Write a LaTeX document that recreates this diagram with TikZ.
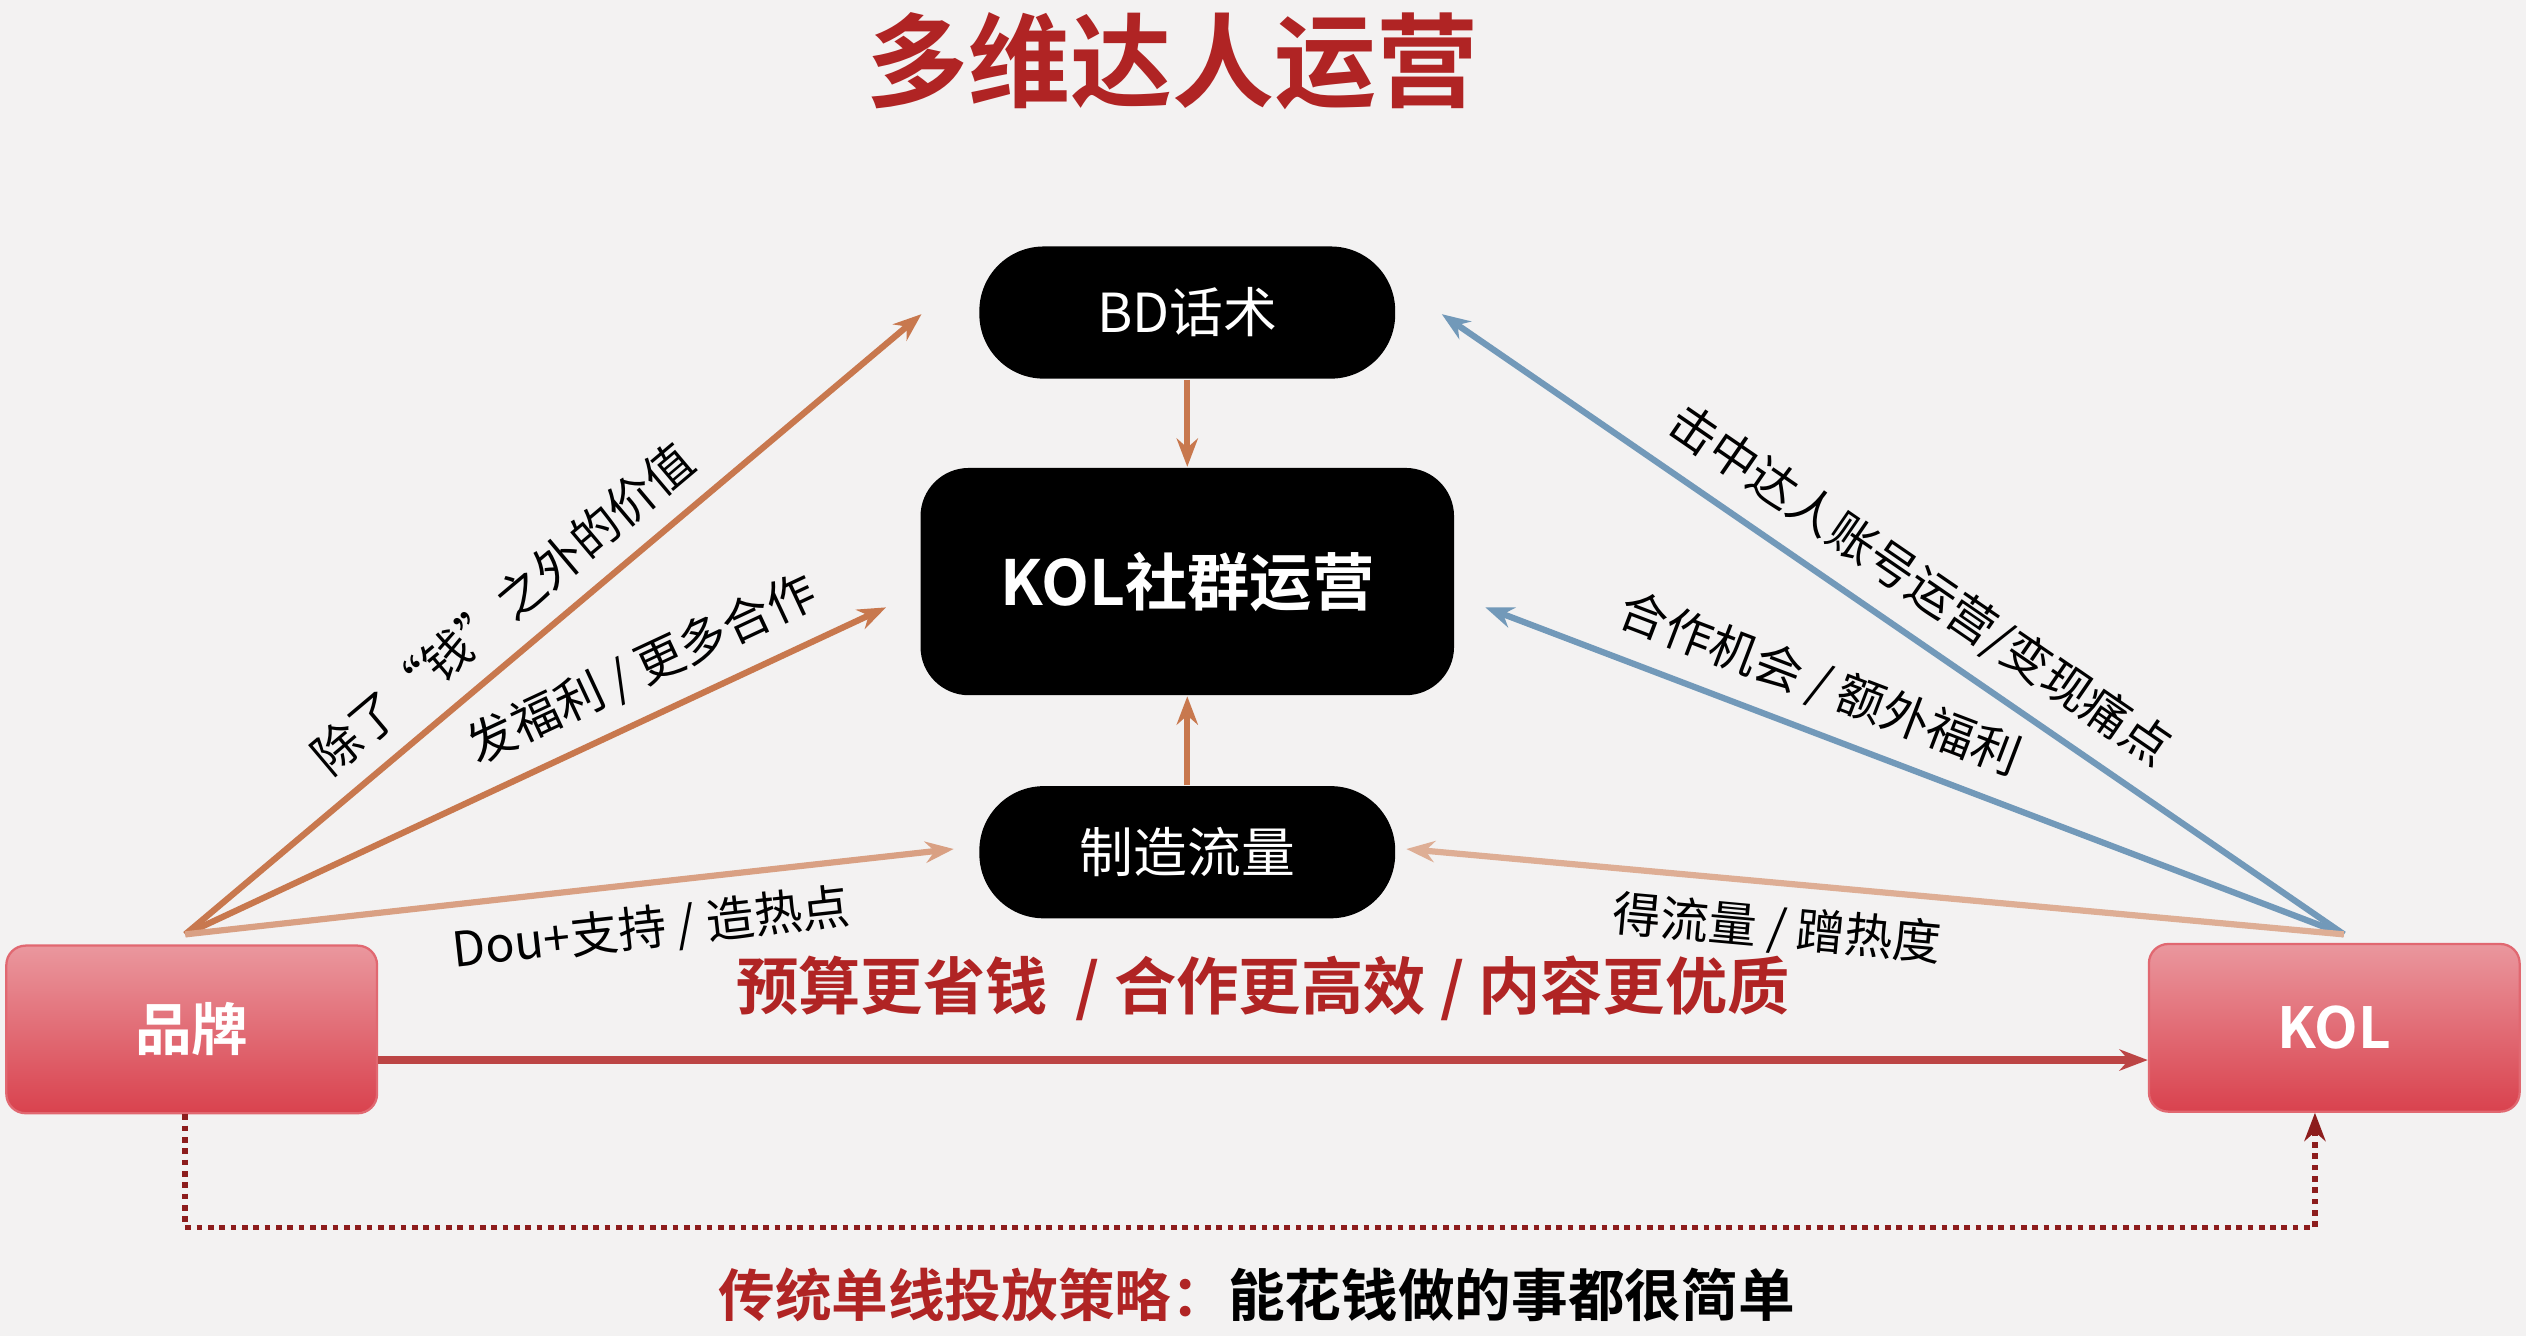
\documentclass[tikz,border=0pt]{standalone}
\usepackage{fontspec}
\setmainfont{Noto Sans CJK SC}
\newfontfamily\cjkbold{Noto Sans CJK SC Bold}
\usetikzlibrary{arrows.meta, positioning, calc}

\definecolor{titlered}{HTML}{B02424}
\definecolor{boxred}{HTML}{D9424E}
\definecolor{linkorange}{HTML}{C8784E}
\definecolor{linkblue}{HTML}{4F7FA8}
\definecolor{bgrey}{HTML}{F3F2F2}

\begin{document}
\begin{tikzpicture}[x=0.01cm, y=-0.01cm,
    pill/.style={rectangle, rounded corners=0.4cm, fill=black, text=white, minimum width=2.58cm, minimum height=0.82cm, font=\fontsize{9.5}{11}\selectfont},
    core/.style={rectangle, rounded corners=0.3cm, fill=black, text=white, minimum width=3.31cm, minimum height=1.41cm, font=\cjkbold\fontsize{11}{13}\selectfont},
    party/.style={rectangle, rounded corners=0.12cm, top color=boxred!55, bottom color=boxred, draw=boxred!80, text=white, minimum width=2.3cm, minimum height=1.04cm, font=\cjkbold\fontsize{10}{12}\selectfont},
    warm/.style={-{Stealth[length=5pt]}, draw=linkorange, line width=1.1pt},
    cool/.style={-{Stealth[length=5pt]}, draw=linkblue!80, line width=1.1pt},
    lbl/.style={font=\fontsize{8.5}{10}\selectfont, text=black}
]
\fill[bgrey] (0,0) rectangle (1568,829);
\useasboundingbox (0,0) rectangle (1568,829);

% title
\node[font=\cjkbold\fontsize{18}{21}\selectfont, text=titlered] (title) at (728,38) {多维达人运营};

% center column
\node[pill] (bd) at (737,194) {BD话术};
\node[core] (kolops) at (737,361) {KOL社群运营};
\node[pill] (traffic) at (737,529) {制造流量};
\draw[warm] (bd) -- (kolops);
\draw[warm] (traffic) -- (kolops);

% the two parties
\node[party] (brand) at (119,639) {品牌};
\node[party] (kol) at (1449,638) {KOL};

\coordinate (bsrc) at (115,580);
\coordinate (ksrc) at (1455,580);
\coordinate (bdl) at (572,195);
\coordinate (opsl) at (550,377);
\coordinate (trl) at (592,527);
\coordinate (bdr) at (895,195);
\coordinate (opsr) at (922,377);
\coordinate (trr) at (873,527);

\draw[warm] (bsrc) -- node[lbl, sloped, above, pos=0.47] {除了“钱”之外的价值} (bdl);
\draw[warm] (bsrc) -- node[lbl, sloped, above, pos=0.68] {发福利 / 更多合作} (opsl);
\draw[warm, draw=linkorange!70] (bsrc) -- node[lbl, sloped, below, pos=0.6] {Dou+支持 / 造热点} (trl);

\draw[cool] (ksrc) -- node[lbl, sloped, above, pos=0.5] {击中达人账号运营/变现痛点} (bdr);
\draw[cool] (ksrc) -- node[lbl, sloped, above, pos=0.63] {合作机会 / 额外福利} (opsr);
\draw[-{Stealth[length=5pt]}, draw=linkorange!60, line width=1.1pt] (ksrc) -- node[lbl, sloped, below, pos=0.6] {得流量 / 蹭热度} (trr);

% direct line
\draw[-{Stealth[length=5pt]}, draw=titlered!85, line width=1.3pt] (brand.east |- 0,658) -- node[above=3pt, font=\cjkbold\fontsize{11}{13}\selectfont, text=titlered] {预算更省钱 \ / 合作更高效 / 内容更优质} (kol.west |- 0,658);

% traditional route
\coordinate (dl) at (115,762);
\coordinate (dr) at (1437,762);
\draw[-{Stealth[length=5pt]}, draw=titlered!80!black, line width=1pt, densely dotted] (brand.south -| dl) -- (dl) -- (dr) -- (kol.south -| dr);
\node[font=\cjkbold\fontsize{10}{12}\selectfont] (trad) at (780,804) {\textcolor{titlered}{传统单线投放策略：}能花钱做的事都很简单};
\end{tikzpicture}
\end{document}
